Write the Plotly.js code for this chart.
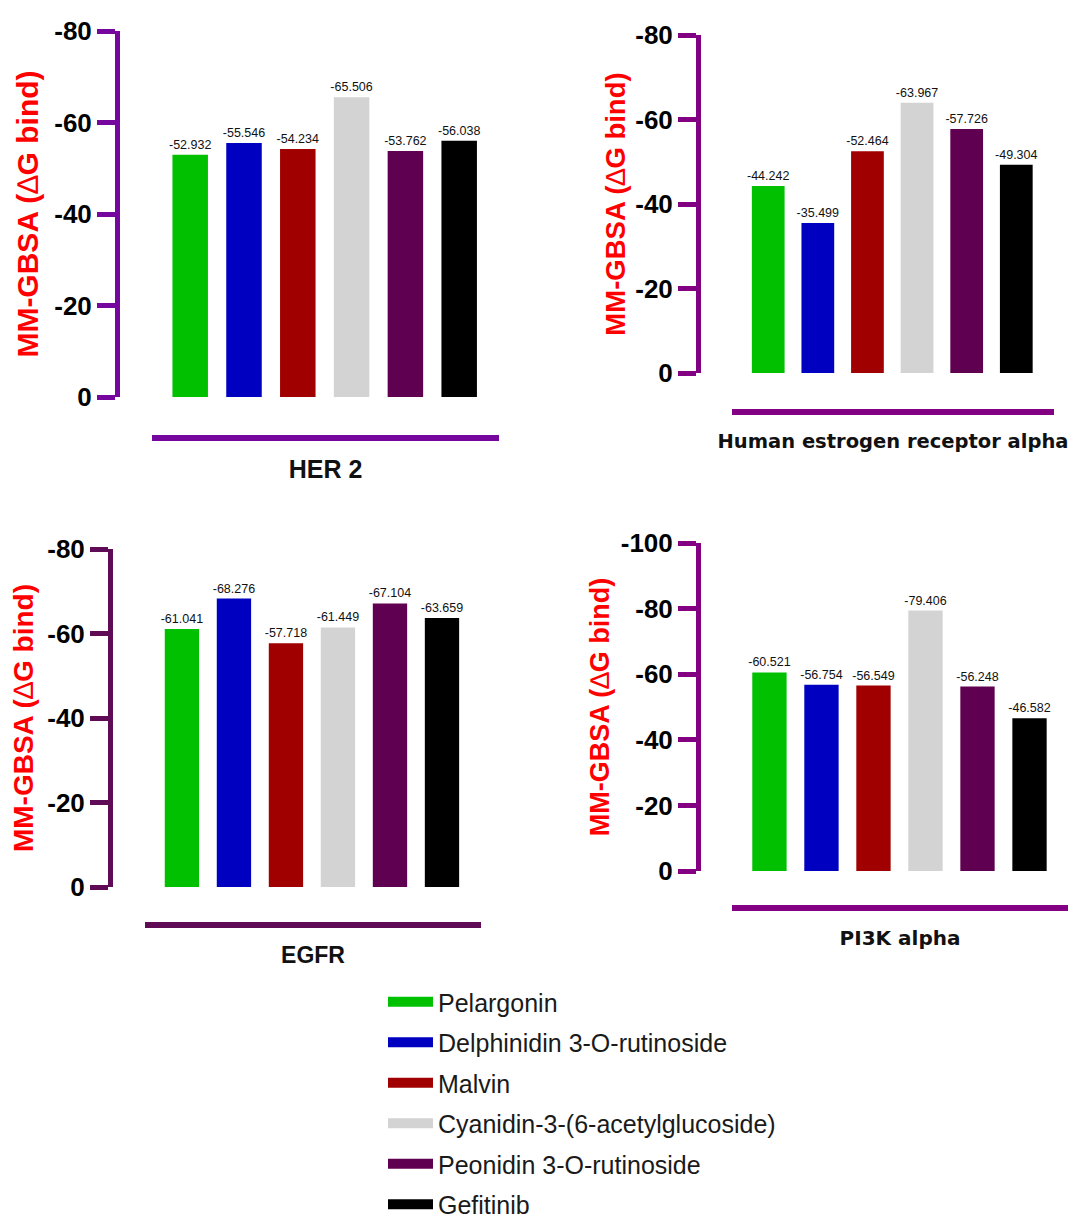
<!DOCTYPE html>
<html>
<head>
<meta charset="utf-8">
<script src="https://cdn.plot.ly/plotly-3.0.1.min.js"></script>
<style>
  html, body { margin: 0; padding: 0; background: #ffffff; }
  #chart { width: 1070px; height: 1222px; }
</style>
</head>
<body>
<div id="chart"></div>
<script>
// ---------------- data ----------------
const compounds = [
  'Pelargonin',
  'Delphinidin 3-O-rutinoside',
  'Malvin',
  'Cyanidin-3-(6-acetylglucoside)',
  'Peonidin 3-O-rutinoside',
  'Gefitinib'
];
const barColors = ['#00C000', '#0000C0', '#A00000', '#D3D3D3', '#600050', '#000000'];

const her2Values = [-52.932, -55.546, -54.234, -65.506, -53.762, -56.038];
const eraValues  = [-44.242, -35.499, -52.464, -63.967, -57.726, -49.304];
const egfrValues = [-61.041, -68.276, -57.718, -61.449, -67.104, -63.659];
const pi3kValues = [-60.521, -56.754, -56.549, -79.406, -56.248, -46.582];

const panelNames = ['HER 2', 'Human estrogen receptor alpha', 'EGFR', 'PI3K alpha'];
const yTitle = 'MM-GBSA (<span style="font-weight:normal">\u2206</span>G bind)';

const tickVals80  = [0, -20, -40, -60, -80];
const tickText80  = ['0', '-20', '-40', '-60', '-80'];
const tickVals100 = [0, -20, -40, -60, -80, -100];
const tickText100 = ['0', '-20', '-40', '-60', '-80', '-100'];

// ---------------- layout helpers ----------------
const W = 1070, H = 1222;
const px = v => v / W;
const py = v => 1 - v / H;

const panels = [
  { values: her2Values, name: panelNames[0], color: '#75079E',
    xDom: [152, 499], yDom: [397, 31], yPos: 117, xLine: 438, xRange: [-0.71, 5.74],
    yRange: [0, -80], tv: tickVals80, tt: tickText80, titleSize: 30, titleStandoff: 5,
    xTitleFont: { family: 'Liberation Sans, Arial, sans-serif', size: 25, color: '#111' }, xStandoff: 19 },
  { values: eraValues, name: panelNames[1], color: '#820082',
    xDom: [732, 1054], yDom: [373, 35], yPos: 698, xLine: 412, xRange: [-0.73, 5.76],
    yRange: [0, -80], tv: tickVals80, tt: tickText80, titleSize: 27.5, titleStandoff: 0,
    xTitleFont: { family: 'DejaVu Sans, Verdana, sans-serif', size: 19.5, color: '#111' }, xStandoff: 19 },
  { values: egfrValues, name: panelNames[2], color: '#5F0B55',
    xDom: [145, 481], yDom: [887, 549], yPos: 110, xLine: 925, xRange: [-0.71, 5.75],
    yRange: [0, -80], tv: tickVals80, tt: tickText80, titleSize: 28, titleStandoff: 4,
    xTitleFont: { family: 'Liberation Sans, Arial, sans-serif', size: 23, color: '#111' }, xStandoff: 19 },
  { values: pi3kValues, name: panelNames[3], color: '#830083',
    xDom: [732, 1068], yDom: [871, 543], yPos: 698, xLine: 908, xRange: [-0.72, 5.74],
    yRange: [0, -100], tv: tickVals100, tt: tickText100, titleSize: 27, titleStandoff: 2,
    xTitleFont: { family: 'DejaVu Sans, Verdana, sans-serif', size: 20, color: '#111' }, xStandoff: 20 }
];

const baseFont = 'Liberation Sans, Arial, Helvetica, sans-serif';
const traces = [];
const layout = {
  width: W, height: H,
  margin: { l: 0, r: 0, t: 0, b: 0, pad: 0, autoexpand: false },
  paper_bgcolor: '#ffffff', plot_bgcolor: 'rgba(0,0,0,0)',
  barmode: 'overlay', bargap: 0.34,
  font: { family: baseFont, color: '#000' },
  showlegend: true,
  legend: {
    x: px(383), y: -5 / H, xanchor: 'left', yanchor: 'bottom',
    font: { family: baseFont, size: 25, color: '#1a1a1a' },
    itemwidth: 45, tracegroupgap: 5, bgcolor: 'rgba(0,0,0,0)', borderwidth: 0,
    itemclick: false, itemdoubleclick: false
  }
};

panels.forEach((p, i) => {
  const n = i + 1;
  const xa = 'x' + (n === 1 ? '' : n), ya = 'y' + (n === 1 ? '' : n);
  const xKey = 'xaxis' + (n === 1 ? '' : n), yKey = 'yaxis' + (n === 1 ? '' : n);
  compounds.forEach((c, j) => {
    traces.push({
      type: 'bar', x: [c], y: [p.values[j]], xaxis: xa, yaxis: ya,
      name: c, showlegend: false,
      marker: { color: barColors[j], line: { width: 0 } },
      text: [p.values[j].toFixed(3)], textposition: 'outside', cliponaxis: false,
      constraintext: 'none',
      textfont: { family: baseFont, size: 12.5, color: '#111' },
      hoverinfo: 'x+y'
    });
  });
  layout[xKey] = {
    domain: [px(p.xDom[0]), px(p.xDom[1])], anchor: 'free', position: py(p.xLine),
    range: p.xRange, type: 'category', categoryorder: 'array', categoryarray: compounds,
    showline: true, linecolor: p.color, linewidth: 6, ticks: '', showticklabels: false,
    showgrid: false, zeroline: false, fixedrange: true, automargin: false,
    title: { text: '<b>' + p.name + '</b>', font: p.xTitleFont, standoff: p.xStandoff }
  };
  layout[yKey] = {
    domain: [py(p.yDom[0]), py(p.yDom[1])], anchor: 'free', position: px(p.yPos),
    range: p.yRange, tickmode: 'array', tickvals: p.tv, ticktext: p.tt,
    showline: true, linecolor: p.color, linewidth: 5,
    ticks: 'outside', ticklen: 18, tickwidth: 5, tickcolor: p.color,
    tickfont: { family: baseFont, size: 26, color: '#000', weight: 'bold' },
    showgrid: false, zeroline: false, fixedrange: true, automargin: false,
    title: { text: '<b>' + yTitle + '</b>', font: { family: baseFont, size: p.titleSize, color: '#FF0000' }, standoff: p.titleStandoff }
  };
});

// legend entries (one per compound, drawn as thick colour swatches)
compounds.forEach((c, j) => {
  traces.push({
    type: 'scatter', mode: 'lines', x: [null], y: [null], xaxis: 'x', yaxis: 'y',
    name: c, legendgroup: 'g' + j, showlegend: true, hoverinfo: 'skip',
    line: { color: barColors[j], width: 16 }
  });
});

Plotly.newPlot('chart', traces, layout, { staticPlot: true, displayModeBar: false });
</script>
</body>
</html>
